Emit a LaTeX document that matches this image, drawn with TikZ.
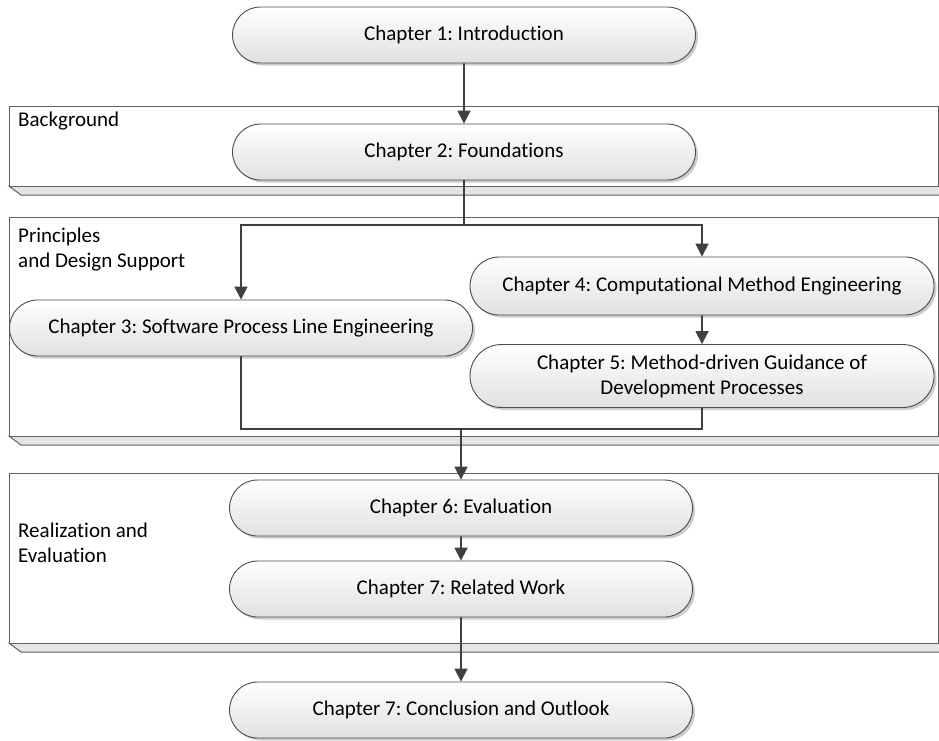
\documentclass[tikz,border=0pt]{standalone}
\usepackage{fontspec}
\setmainfont{Carlito}[Ligatures=NoCommon]
\usetikzlibrary{shapes.misc,shadows,arrows.meta}
\frenchspacing

\begin{document}
\begin{tikzpicture}[x=1pt,y=-1pt,
  chapter/.style={rounded rectangle, draw=black!70, line width=0.9pt,
    top color=white, bottom color=black!12,
    minimum width=463pt, minimum height=56pt, inner sep=0pt,
    font=\fontsize{21}{25}\selectfont, align=center,
    drop shadow={shadow xshift=2.5pt, shadow yshift=-2.5pt, fill=black!28, opacity=0.7}},
  flow/.style={line width=1.8pt, draw=black!75, -{Triangle[width=13pt,length=13pt]}},
  link/.style={line width=1.8pt, draw=black!75},
  frame/.style={draw=black!62, line width=1pt},
  shelf/.style={draw=black!62, line width=1pt, fill=black!10},
  grouplabel/.style={anchor=north west, inner sep=0pt, align=left,
    font=\fontsize{21}{25}\selectfont},
]
\clip (0,0) rectangle (939,740);
\fill[white] (0,0) rectangle (939,740);

% group panels: front face with a shelf strip underneath
\draw[shelf] (9,186) -- (21,195) -- (950,195) -- (950,186) -- cycle;
\draw[frame, fill=white] (9,106) rectangle (938,186);
\draw[shelf] (9,436) -- (21,445) -- (950,445) -- (950,436) -- cycle;
\draw[frame, fill=white] (9,217) rectangle (938,436);
\draw[shelf] (9,643) -- (21,652) -- (950,652) -- (950,643) -- cycle;
\draw[frame, fill=white] (9,473) rectangle (938,643);

\node[grouplabel] (lbg) at (18,112) {Background};
\node[grouplabel] (lpr) at (18,228) {Principles\\and Design Support};
\node[grouplabel] (lre) at (18,523) {Realization and\\Evaluation};

% chapters
\node[chapter] (c1) at (464,35) {Chapter 1: Introduction};
\node[chapter] (c2) at (464,152) {Chapter 2: Foundations};
\node[chapter] (c3) at (241,328) {Chapter 3: Software Process Line Engineering};
\node[chapter, minimum width=464pt, minimum height=58pt] (c4) at (702,286) {Chapter 4: Computational Method Engineering};
\node[chapter, minimum width=464pt, minimum height=63pt] (c5) at (702,376) {Chapter 5: Method-driven Guidance of\\Development Processes};
\node[chapter] (c6) at (461,508) {Chapter 6: Evaluation};
\node[chapter] (c7) at (461,589) {Chapter 7: Related Work};
\node[chapter] (c8) at (461,710) {Chapter 7: Conclusion and Outlook};

% connectors
\coordinate (split) at (464,225);
\coordinate (join) at (461,429);
\draw[flow] (c1) -- (c2);
\draw[link] (c2.south) -- (split);
\draw[flow] (split) -| (c3.north);
\draw[flow] (split) -| (c4.north);
\draw[flow] (c4) -- (c5);
\draw[link] (c3.south) |- (join);
\draw[link] (c5.south) |- (join);
\draw[flow] (join) -- (c6.north);
\draw[flow] (c6) -- (c7);
\draw[flow] (c7) -- (c8);
\end{tikzpicture}
\end{document}
